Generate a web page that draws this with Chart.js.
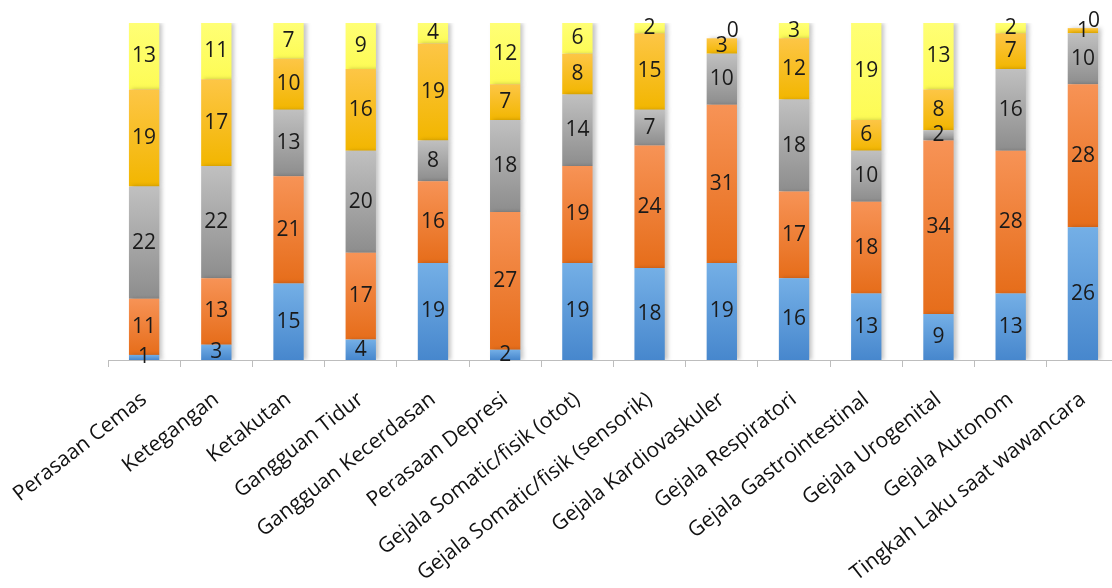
<!DOCTYPE html>
<html>
<head>
<meta charset="utf-8">
<script src="https://cdn.jsdelivr.net/npm/chart.js@4.4.1/dist/chart.umd.min.js"></script>
<style>
  body { margin: 0; background: #fff; overflow: hidden; }
  #wrap { width: 1119px; height: 588px; }
</style>
</head>
<body>
<div id="wrap"><canvas id="myChart"></canvas></div>
<script>
const categories = [
  'Perasaan Cemas', 'Ketegangan', 'Ketakutan', 'Gangguan Tidur',
  'Gangguan Kecerdasan', 'Perasaan Depresi', 'Gejala Somatic/fisik (otot)',
  'Gejala Somatic/fisik (sensorik)', 'Gejala Kardiovaskuler', 'Gejala Respiratori',
  'Gejala Gastrointestinal', 'Gejala Urogenital', 'Gejala Autonom',
  'Tingkah Laku saat wawancara'
];

// nilai tiap skor (dari bawah ke atas)
const skor0 = [1, 3, 15, 4, 19, 2, 19, 18, 19, 16, 13, 9, 13, 26];
const skor1 = [11, 13, 21, 17, 16, 27, 19, 24, 31, 17, 18, 34, 28, 28];
const skor2 = [22, 22, 13, 20, 8, 18, 14, 7, 10, 18, 10, 2, 16, 10];
const skor3 = [19, 17, 10, 16, 19, 7, 8, 15, 3, 12, 6, 8, 7, 1];
const skor4 = [13, 11, 7, 9, 4, 12, 6, 2, 0, 3, 19, 13, 2, 0];

const series = [skor0, skor1, skor2, skor3, skor4];
const names = ['Skor 0', 'Skor 1', 'Skor 2', 'Skor 3', 'Skor 4'];
const colors = [
  ['#74afe6', '#4787cd'],
  ['#f79356', '#e66d1a'],
  ['#c0c0c0', '#8d8d8d'],
  ['#fdc646', '#f2b600'],
  ['#ffff75', '#fdfb55']
];

function segGradient(c) {
  const chart = c.chart;
  const pair = colors[c.datasetIndex];
  if (!chart.chartArea || c.type !== 'data') return pair[1];
  const y = chart.scales.y;
  let base = 0;
  for (let k = 0; k < c.datasetIndex; k++) base += series[k][c.dataIndex];
  const v = series[c.datasetIndex][c.dataIndex];
  const yTop = y.getPixelForValue(base + v);
  let yBot = y.getPixelForValue(base);
  if (yBot - yTop < 1) yBot = yTop + 1;
  const g = chart.ctx.createLinearGradient(0, yTop, 0, yBot);
  g.addColorStop(0, pair[0]);
  g.addColorStop(1, pair[1]);
  return g;
}

const datasets = series.map((s, i) => ({
  label: names[i],
  data: s,
  backgroundColor: segGradient,
  borderWidth: 0,
  barPercentage: 0.42,
  categoryPercentage: 1
}));

// bayangan tipis di kanan batang
const shadowPlugin = {
  id: 'shadow',
  beforeDatasetsDraw(chart) {
    const ctx = chart.ctx;
    ctx.save();
    ctx.shadowColor = 'rgba(0,0,0,0.22)';
    ctx.shadowBlur = 4;
    ctx.shadowOffsetX = 3;
    ctx.shadowOffsetY = 0;
  },
  afterDatasetsDraw(chart) {
    chart.ctx.restore();
  }
};

// angka di tengah tiap segmen
const valueLabels = {
  id: 'valueLabels',
  afterDatasetsDraw(chart) {
    const ctx = chart.ctx;
    ctx.save();
    ctx.font = '21px "Open Sans"';
    ctx.fillStyle = '#1a1a1a';
    ctx.textAlign = 'center';
    ctx.textBaseline = 'middle';
    chart.data.datasets.forEach((ds, di) => {
      const meta = chart.getDatasetMeta(di);
      meta.data.forEach((bar, i) => {
        const v = ds.data[i];
        let x = bar.x, y = (bar.y + bar.base) / 2;
        if (v === 0) { x += 11; y -= 7; }
        ctx.fillText(String(v), x, y);
      });
    });
    ctx.restore();
  }
};

new Chart(document.getElementById('myChart'), {
  type: 'bar',
  data: { labels: categories, datasets: datasets },
  options: {
    responsive: true,
    maintainAspectRatio: false,
    animation: false,
    layout: { padding: { left: 108, top: 23, right: 0, bottom: 0 } },
    plugins: { legend: { display: false }, tooltip: { enabled: false } },
    scales: {
      x: {
        stacked: true,
        afterFit(scale) {
          scale.height = 228;
          scale.paddingLeft = 0;
          scale.paddingRight = 0;
        },
        grid: {
          offset: true,
          drawOnChartArea: false,
          drawTicks: true,
          tickLength: 7,
          color: '#bdbdbd'
        },
        border: { display: true, color: '#bdbdbd', width: 1 },
        ticks: {
          autoSkip: false,
          minRotation: 38,
          maxRotation: 38,
          padding: 20,
          color: '#111',
          font: { family: 'Open Sans', size: 21 }
        }
      },
      y: {
        stacked: true,
        display: false,
        min: 0,
        max: 66
      }
    }
  },
  plugins: [shadowPlugin, valueLabels]
});
</script>
</body>
</html>
